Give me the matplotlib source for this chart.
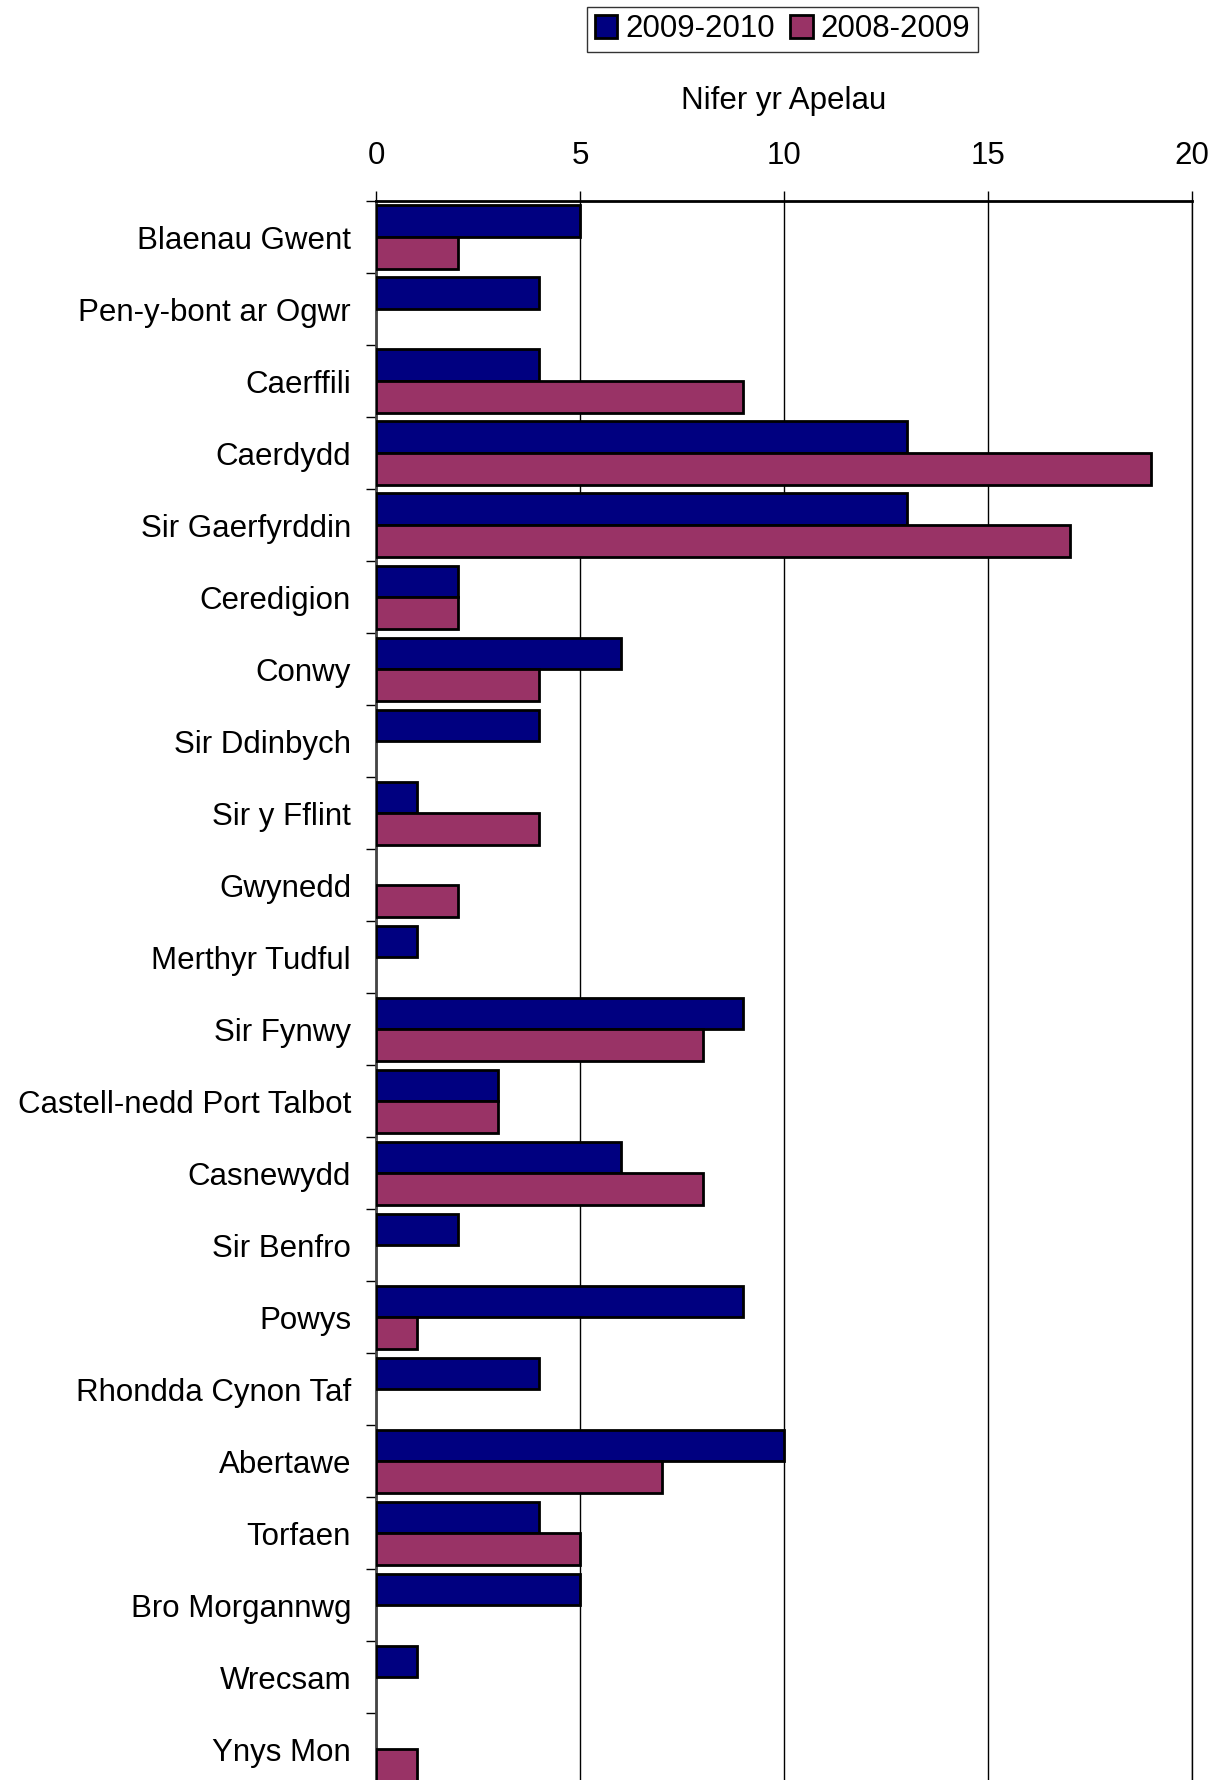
#!/usr/bin/env python
# -*- coding: utf-8 -*-

import matplotlib
matplotlib.use("Agg")
import matplotlib.pyplot as plt
import numpy as np

# datos
ardaloedd = ["Blaenau Gwent", "Pen-y-bont ar Ogwr", "Caerffili", "Caerdydd",
             "Sir Gaerfyrddin", "Ceredigion", "Conwy", "Sir Ddinbych",
             "Sir y Fflint", "Gwynedd", "Merthyr Tudful", "Sir Fynwy",
             "Castell-nedd Port Talbot", "Casnewydd", "Sir Benfro", "Powys",
             "Rhondda Cynon Taf", "Abertawe", "Torfaen", "Bro Morgannwg",
             "Wrecsam", "Ynys Mon"]
apelau_2009_2010 = [5, 4, 4, 13, 13, 2, 6, 4, 1, 0, 1, 9, 3, 6, 2, 9, 4, 10, 4, 5, 1, 0]
apelau_2008_2009 = [2, 0, 9, 19, 17, 2, 4, 0, 4, 2, 0, 8, 3, 8, 0, 1, 0, 7, 5, 0, 0, 1]
xticks = [0, 5, 10, 15, 20]

plt.rcParams["font.family"] = ["Liberation Sans", "DejaVu Sans"]
FS = 22.5

fig = plt.figure(figsize=(12.19, 17.80), dpi=100)
ax = fig.add_axes([0.3085, -0.003, 0.6695, 0.89])

pos = np.arange(len(ardaloedd))
alto = 0.44
v1 = np.array(apelau_2009_2010)
v2 = np.array(apelau_2008_2009)

# barras (las de valor cero no se ven en el original)
m1 = v1 > 0
m2 = v2 > 0
b1 = ax.barh(pos[m1] - alto / 2, v1[m1], height=alto, color="#000080",
             edgecolor="black", linewidth=2, zorder=3)
b2 = ax.barh(pos[m2] + alto / 2, v2[m2], height=alto, color="#993366",
             edgecolor="black", linewidth=2, zorder=3)

ax.set_xlim(0, 20)
ax.set_ylim(len(ardaloedd) - 0.5, -0.5)

# eje X arriba
ax.xaxis.tick_top()
ax.xaxis.set_label_position("top")
ax.set_xticks(xticks)
ax.set_xticklabels([str(t) for t in xticks], fontsize=FS)
ax.tick_params(axis="x", length=7, width=1, pad=15, color="black")
ax.set_xlabel("Nifer yr Apelau", fontsize=FS, labelpad=22.5)

# eje Y con marcas entre categorias
ax.set_yticks(pos)
ax.set_yticklabels(ardaloedd, fontsize=FS)
ax.tick_params(axis="y", which="major", length=0, pad=18)
ax.set_yticks(np.arange(-0.5, len(ardaloedd), 1), minor=True)
ax.tick_params(axis="y", which="minor", length=7, width=1, color="black")

ax.grid(axis="x", color="black", linewidth=1, zorder=0)
ax.set_axisbelow(True)
ax.spines["bottom"].set_visible(False)
ax.spines["right"].set_linewidth(1)
ax.spines["top"].set_linewidth(2)
ax.spines["left"].set_linewidth(2)
ax.spines["left"].set_color("#444444")

# leyenda arriba
leg = fig.legend([b1, b2], ["2009-2010", "2008-2009"], loc="center",
                 bbox_to_anchor=(0.642, 0.9835), ncol=2, fontsize=FS,
                 frameon=True, fancybox=False, edgecolor="black",
                 handlelength=0.72, handleheight=0.72, handletextpad=0.25,
                 columnspacing=0.5, borderpad=0.25, borderaxespad=0)
leg.get_frame().set_linewidth(1)

plt.savefig("out.png", dpi=100)
